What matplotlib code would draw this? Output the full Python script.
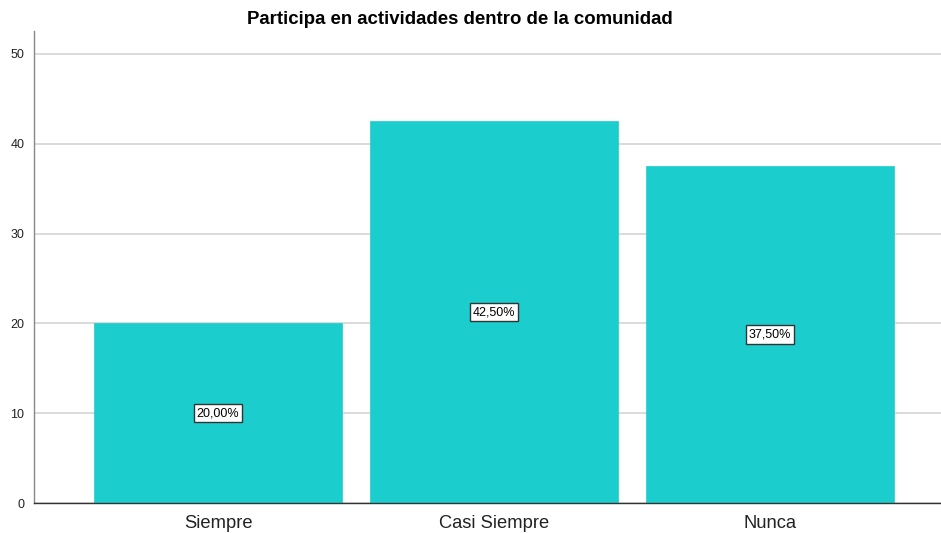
import matplotlib
matplotlib.use("Agg")
import matplotlib.pyplot as plt

plt.rcParams["font.family"] = ["Liberation Sans", "DejaVu Sans"]

categories = ["Siempre", "Casi Siempre", "Nunca"]
values = [20.0, 42.5, 37.5]
labels = ["20,00%", "42,50%", "37,50%"]
yticks = [0, 10, 20, 30, 40, 50]
title = "Participa en actividades dentro de la comunidad"

fig = plt.figure(figsize=(9.41, 5.33), dpi=100)
fig.patch.set_facecolor("white")
ax = fig.add_axes([34/941, 1-503/533, 1-34/941, (503-31)/533])

x = list(range(len(categories)))
ax.set_axisbelow(True)
ax.yaxis.grid(True, color="#d4d4d4", linewidth=1.2)
ax.bar(x, values, width=0.9, color="#1ccdcd", edgecolor="#1ccdcd", linewidth=0.5, zorder=2)

for xi, v, lab in zip(x, values, labels):
    ax.text(xi, v/2, lab, ha="center", va="center", fontsize=9, color="black", zorder=3,
            bbox=dict(boxstyle="square,pad=0.25", facecolor="white", edgecolor="#333333", linewidth=1))

ax.set_xlim(-0.667, 2.62)
ax.set_ylim(0, 52.56)
ax.set_yticks(yticks)
ax.set_yticklabels([str(t) for t in yticks], fontsize=9, color="#222222")
ax.set_xticks(x)
ax.set_xticklabels(categories, fontsize=13.2, color="#222222")
ax.tick_params(axis="y", length=0, pad=7)
ax.tick_params(axis="x", length=0, pad=9)
for s in ["top", "right"]:
    ax.spines[s].set_visible(False)
ax.spines["left"].set_color("#888888")
ax.spines["left"].set_linewidth(1)
ax.spines["bottom"].set_color("#333333")
ax.spines["bottom"].set_linewidth(1)

fig.text(460/941, 1-19/533, title, ha="center", va="center", fontsize=13.4, fontweight="bold")

fig.savefig("out.png", dpi=100, facecolor="white")
